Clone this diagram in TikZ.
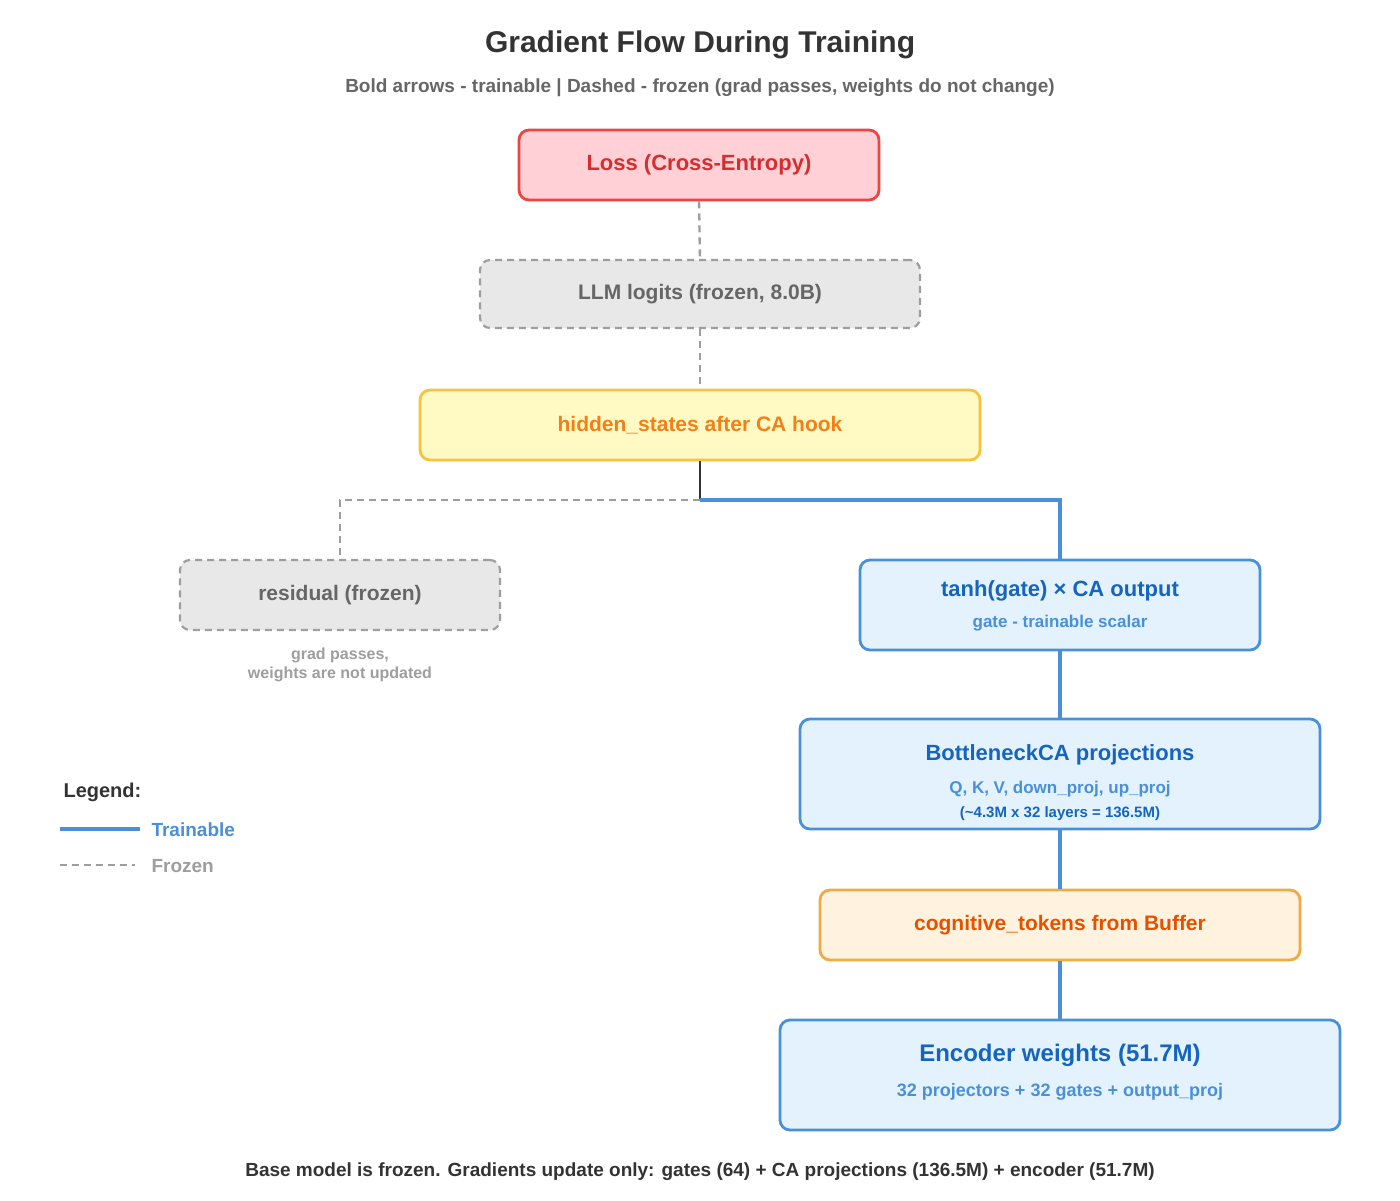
\documentclass[tikz,border=0pt]{standalone}
\usepackage{fontspec}
\setmainfont{Liberation Sans}
\definecolor{redb}{HTML}{EF4444}\definecolor{redf}{HTML}{FFD0D6}\definecolor{redt}{HTML}{D32F2F}
\definecolor{grayb}{HTML}{9E9E9E}\definecolor{grayf}{HTML}{E8E8E8}\definecolor{grayt}{HTML}{666666}
\definecolor{yelb}{HTML}{F8C23A}\definecolor{yelf}{HTML}{FFF9C4}\definecolor{yelt}{HTML}{F57F17}
\definecolor{blueb}{HTML}{4A90D9}\definecolor{bluef}{HTML}{E3F2FD}\definecolor{bluet}{HTML}{1565C0}
\definecolor{orab}{HTML}{EEAA44}\definecolor{oraf}{HTML}{FFF3E0}\definecolor{orat}{HTML}{E65100}
\definecolor{dark}{HTML}{333333}
\newcommand{\fs}[1]{\fontsize{#1}{#1}\selectfont}
\begin{document}
\begin{tikzpicture}[x=1pt,y=-1pt,
 box/.style={rounded corners=10pt,line width=2.8pt,font=\bfseries,align=center,inner sep=0pt},
 frozenline/.style={grayb,dashed,dash pattern=on 7pt off 5pt,line width=2.4pt},
 trainline/.style={blueb,line width=3.5pt}]
\useasboundingbox[fill=white] (0,0) rectangle (1400,1200);
\node[font=\bfseries\fs{30},text=dark] (title) at (700,45) {Gradient Flow During Training};
\node[font=\bfseries\fs{19},text=grayt] (sub) at (700,88) {Bold arrows - trainable | Dashed - frozen (grad passes, weights do not change)};
\node[box,draw=redb,fill=redf,text=redt,minimum width=360pt,minimum height=70pt,font=\bfseries\fs{22}] (loss) at (699,165) {Loss (Cross-Entropy)};
\node[box,draw=grayb,fill=grayf,text=grayt,dashed,line width=2.2pt,dash pattern=on 7pt off 5pt,minimum width=440pt,minimum height=68pt,font=\bfseries\fs{21}] (logits) at (700,294) {LLM logits (frozen, 8.0B)};
\node[box,draw=yelb,fill=yelf,text=yelt,minimum width=560pt,minimum height=70pt,font=\bfseries\fs{21}] (hid) at (700,425) {hidden\_states after CA hook};
\node[box,draw=grayb,fill=grayf,text=grayt,dashed,line width=2.2pt,dash pattern=on 7pt off 5pt,minimum width=320pt,minimum height=70pt,font=\bfseries\fs{21}] (res) at (340,595) {residual (frozen)};
\node[font=\bfseries\fs{16},text=grayb,align=center] (resnote) at (340,665) {grad passes,\\[3pt]weights are not updated};
\node[box,draw=blueb,fill=bluef,minimum width=400pt,minimum height=90pt] (tanh) at (1060,605) {};
\node[font=\bfseries\fs{22},text=bluet] (tanht) at (1060,591) {tanh(gate) × CA output};
\node[font=\bfseries\fs{17},text=blueb] (tanhs) at (1060,623) {gate - trainable scalar};
\node[box,draw=blueb,fill=bluef,minimum width=520pt,minimum height=110pt] (bca) at (1060,774) {};
\node[font=\bfseries\fs{22},text=bluet] (bcat) at (1060,755) {BottleneckCA projections};
\node[font=\bfseries\fs{17},text=blueb] (bcas) at (1060,789) {Q, K, V, down\_proj, up\_proj};
\node[font=\bfseries\fs{15},text=bluet] (bcas2) at (1060,814) {(\textasciitilde 4.3M x 32 layers = 136.5M)};
\node[box,draw=orab,fill=oraf,text=orat,minimum width=480pt,minimum height=70pt,font=\bfseries\fs{21}] (cog) at (1060,925) {cognitive\_tokens from Buffer};
\node[box,draw=blueb,fill=bluef,minimum width=560pt,minimum height=110pt] (enc) at (1060,1075) {};
\node[font=\bfseries\fs{24},text=bluet] (enct) at (1060,1055) {Encoder weights (51.7M)};
\node[font=\bfseries\fs{18},text=blueb] (encs) at (1060,1092) {32 projectors + 32 gates + output\_proj};
\coordinate (split) at (700,500);
\draw[frozenline] (loss.south) -- (logits.north);
\draw[frozenline] (logits.south) -- (hid.north);
\draw[dark,line width=2pt] (hid.south) -- (split);
\draw[frozenline] (split) -| (res.north);
\draw[trainline] (split) -| (tanh.north);
\draw[trainline] (tanh.south) -- (bca.north);
\draw[trainline] (bca.south) -- (cog.north);
\draw[trainline] (cog.south) -- (enc.north);
\node[font=\bfseries\fs{20},text=dark,anchor=west] (leg) at (60,792) {Legend:};
\coordinate (l1a) at (60,829); \coordinate (l1b) at (140,829);
\draw[trainline] (l1a) -- (l1b);
\node[font=\bfseries\fs{19},text=blueb,anchor=west] (legt) at (148,830) {Trainable};
\coordinate (l2a) at (60,865); \coordinate (l2b) at (135,865);
\draw[frozenline] (l2a) -- (l2b);
\node[font=\bfseries\fs{19},text=grayb,anchor=west] (legf) at (148,866) {Frozen};
\node[font=\bfseries\fs{19},text=dark] (foot) at (700,1172) {Base model is frozen. Gradients update only: gates (64) + CA projections (136.5M) + encoder (51.7M)};
\end{tikzpicture}
\end{document}
